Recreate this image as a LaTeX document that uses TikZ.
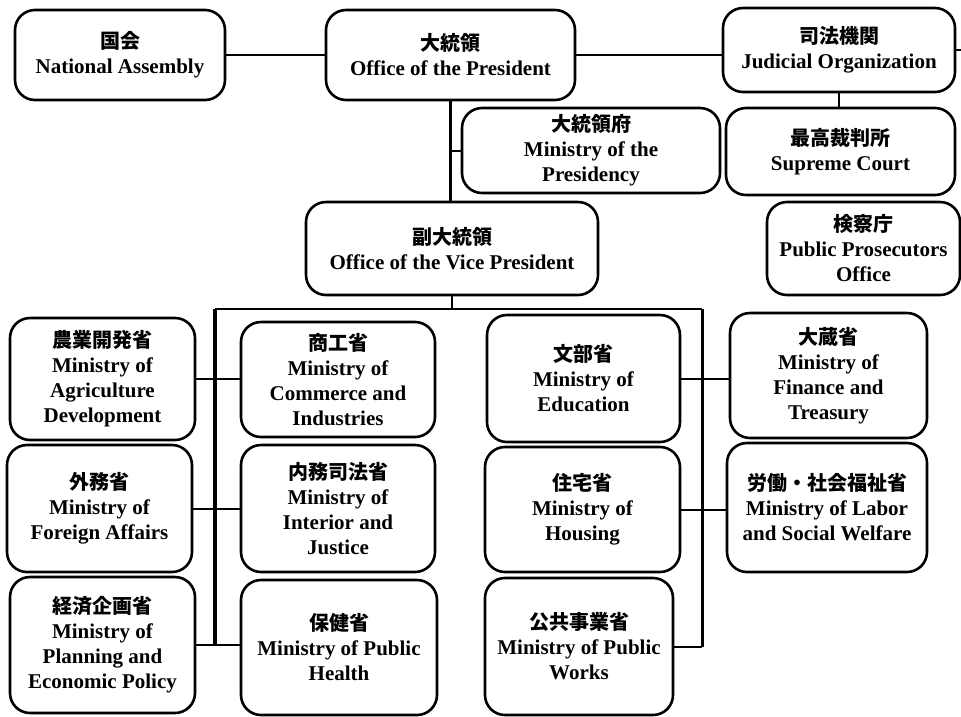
\documentclass[tikz,border=0pt]{standalone}
\usepackage{fontspec}
\setmainfont{Liberation Serif}
\newfontfamily\cjk{Noto Sans CJK JP}
\begin{document}
\begin{tikzpicture}[x=1pt,y=-1pt,
  bx/.style={draw, line width=2.6pt, rounded corners=20pt, inner sep=0pt, outer sep=0pt,
    align=center, font=\fontsize{21}{25}\selectfont\bfseries},
  ln/.style={line width=2pt},
  bus/.style={line width=3pt}]
\useasboundingbox (0,0) rectangle (961,716);
\newcommand{\J}[1]{{\cjk\bfseries\fontsize{20}{25}\selectfont #1}}
% top row
\node[bx, minimum width=210pt, minimum height=90pt] (na) at (120,55) {\J{国会}\\National Assembly};
\node[bx, minimum width=249pt, minimum height=90pt] (pres) at (450.5,55) {\J{大統領}\\Office of the President};
\node[bx, minimum width=232pt, minimum height=84pt] (jud) at (839,50) {\J{司法機関}\\Judicial Organization};
\node[bx, minimum width=258pt, minimum height=85pt] (mop) at (591,150.5) {\J{大統領府}\\Ministry of the\\Presidency};
\node[bx, minimum width=229pt, minimum height=87pt] (sc) at (840.5,151.5) {\J{最高裁判所}\\Supreme Court};
\node[bx, minimum width=193pt, minimum height=93pt] (ppo) at (863.5,248.5) {\J{検察庁}\\Public Prosecutors\\Office};
\node[bx, minimum width=292pt, minimum height=93pt] (vp) at (452,248.5) {\J{副大統領}\\Office of the Vice President};
% ministries
\node[bx, minimum width=185pt, minimum height=122pt] (agri) at (102.5,379) {\J{農業開発省}\\Ministry of\\Agriculture\\Development};
\node[bx, minimum width=185pt, minimum height=127pt] (for) at (99.5,508.5) {\J{外務省}\\Ministry of\\Foreign Affairs};
\node[bx, minimum width=185pt, minimum height=136pt] (plan) at (102.5,645) {\J{経済企画省}\\Ministry of\\Planning and\\Economic Policy};
\node[bx, minimum width=194pt, minimum height=115pt] (com) at (338,379.5) {\J{商工省}\\Ministry of\\Commerce and\\Industries};
\node[bx, minimum width=194pt, minimum height=127pt] (int) at (338,508.5) {\J{内務司法省}\\Ministry of\\Interior and\\Justice};
\node[bx, minimum width=196pt, minimum height=135pt] (hea) at (339,647.5) {\J{保健省}\\Ministry of Public\\Health};
\node[bx, minimum width=193pt, minimum height=127pt] (edu) at (583.5,378.5) {\J{文部省}\\Ministry of\\Education};
\node[bx, minimum width=195pt, minimum height=125pt] (hou) at (582.5,509.5) {\J{住宅省}\\Ministry of\\Housing};
\node[bx, minimum width=188pt, minimum height=137pt] (pw) at (579,646.5) {\J{公共事業省}\\Ministry of Public\\Works};
\node[bx, minimum width=197pt, minimum height=125pt] (fin) at (828.5,375.5) {\J{大蔵省}\\Ministry of\\Finance and\\Treasury};
\node[bx, minimum width=200pt, minimum height=129pt] (lab) at (827,507.5) {\J{労働・社会福祉省}\\Ministry of Labor\\and Social Welfare};
% coordinates
\coordinate (edge) at (961,50);
\coordinate (bl) at (215,309);
\coordinate (br) at (702,309);
% connectors
\draw[ln] (na.east) -- (pres.west);
\draw[ln] (pres.east) -- (pres.east -| jud.west);
\draw[ln] (jud.east) -- (edge);
\draw[bus] (pres.south) -- (pres.south |- vp.north);
\draw[ln] (pres.south |- mop.west) -- (mop.west);
\draw[ln] (jud.south) -- (jud.south |- sc.north);
\draw[ln] (vp.south) -- (vp.south |- bl);
\draw[ln] (bl) -- (br);
\draw[line width=4pt] (bl) -- (bl |- plan.east);
\draw[ln] (agri.east) -- (agri.east -| com.west);
\draw[ln] (for.east) -- (for.east -| int.west);
\draw[ln] (plan.east) -- (plan.east -| hea.west);
\draw[bus] (br) -- (br |- pw.east);
\draw[ln] (pw.east) -- (pw.east -| br);
\draw[ln] (edu.east) -- (edu.east -| fin.west);
\draw[ln] (hou.east) -- (hou.east -| lab.west);
\end{tikzpicture}
\end{document}
